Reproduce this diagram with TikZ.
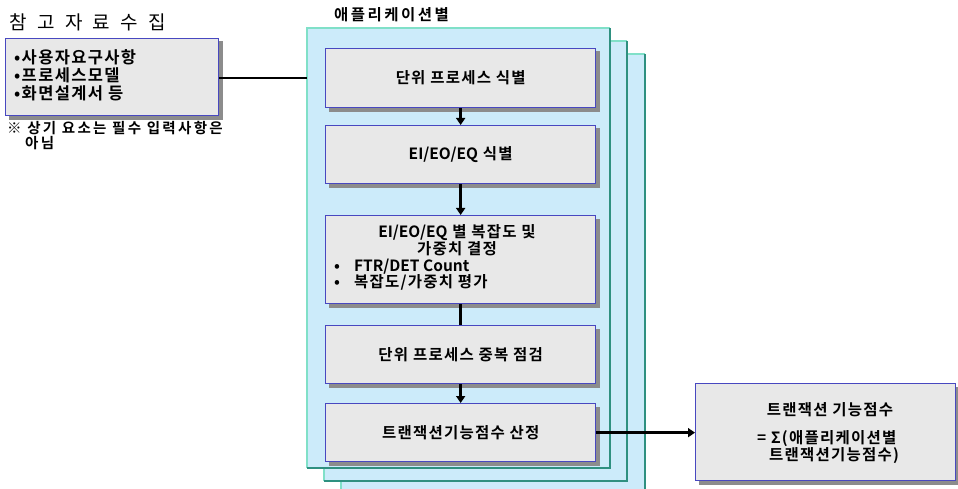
\documentclass[tikz,border=0pt]{standalone}
\usepackage{fontspec}
\setmainfont{Noto Sans CJK KR}
\newfontfamily\kb[LetterSpace=8]{Noto Sans CJK KR Bold}
\newfontfamily\kw[LetterSpace=16]{Noto Sans CJK KR Bold}
\newfontfamily\kl{Noto Sans CJK KR Bold}
\newfontfamily\kt[LetterSpace=55]{Noto Sans CJK KR}
\usetikzlibrary{arrows.meta}
\pgfdeclarelayer{panels}
\pgfdeclarelayer{shadow}
\pgfsetlayers{panels,shadow,main}
\definecolor{panelfill}{HTML}{CCEBFA}
\definecolor{panellight}{HTML}{80E0C8}
\definecolor{paneldark}{HTML}{2E9080}
\definecolor{boxfill}{HTML}{E8E8E8}
\definecolor{boxline}{HTML}{4848C0}
\definecolor{shadowgray}{HTML}{8C8C8C}
\tikzset{
  procbox/.style={draw=boxline, line width=1.3pt, fill=boxfill},
  conn/.style={line width=2.6pt, black},
  arr/.style={conn, -{Triangle[length=7pt,width=9pt]}},
  boxtext/.style={font=\kb\fontsize{15.5}{17}\selectfont, align=center},
}
\newcommand{\panel}[4]{%
  \fill[panelfill] (#1,#2) rectangle (#3,#4);
  \draw[panellight, line width=1.6pt] (#1,#4) -- (#1,#2) -- (#3,#2);
  \draw[paneldark, line width=2pt] (#3,#2) -- (#3,#4) -- (#1,#4);
}
\newcommand{\boxshadow}[1]{%
  \begin{pgfonlayer}{shadow}
  \fill[shadowgray] ([shift={(3.5,3.5)}]#1.north west) rectangle ([shift={(3.5,3.5)}]#1.south east);
  \end{pgfonlayer}}
\begin{document}
\begin{tikzpicture}[x=1pt,y=-1pt]
\useasboundingbox (0,0) rectangle (958,489);
% stacked panels
\begin{pgfonlayer}{panels}
\fill[panelfill] (341,54) rectangle (645,489);
\draw[panellight, line width=1.6pt] (341,489) -- (341,54) -- (645,54);
\draw[paneldark, line width=2pt] (645,54) -- (645,489);
\panel{324}{41}{627}{481}
\panel{307}{28}{610}{468}
\end{pgfonlayer}
% labels
\node[anchor=west, inner sep=0pt, font=\kt\fontsize{19}{20}\selectfont] (title) at (9,22) {참고자료수집};
\node[anchor=west, inner sep=0pt, font=\kw\fontsize{15.5}{16}\selectfont] (applabel) at (334,15) {애플리케이션별};
% left box
\node[procbox, minimum width=213pt, minimum height=77pt, anchor=north west] (src) at (5,38) {};
\boxshadow{src}
\node[anchor=north west, inner sep=0pt, align=left, font=\kb\fontsize{16.5}{18}\selectfont] (srctext) at (14,49)
  {•사용자요구사항\\•프로세스모델\\•화면설계서 등};
\node[anchor=north west, inner sep=0pt, align=left, font=\kw\fontsize{14.5}{15.5}\selectfont] (note) at (7,121)
  {※ 상기 요소는 필수 입력사항은\\\hspace*{18pt}아님};
\coordinate (panelin) at (307,78);
\draw[conn] (src.east |- panelin) -- (panelin);
% process boxes
\node[procbox, boxtext, minimum width=270pt, minimum height=59pt, anchor=north west] (b1) at (325,48) {단위 프로세스 식별};
\node[procbox, boxtext, minimum width=270pt, minimum height=58pt, anchor=north west] (b2) at (325,125) {{\kl EI/EO/EQ} 식별};
\node[procbox, minimum width=270pt, minimum height=88pt, anchor=north west] (b3) at (325,215) {};
\node[boxtext, inner sep=0pt, anchor=north] (b3t) at (457,224) {{\kl EI/EO/EQ} 별 복잡도 및\\가중치 결정};
\node[inner sep=0pt, anchor=north west, align=left, font=\kb\fontsize{15.5}{16}\selectfont] (b3l) at (334,259)
  {•\hspace{14pt}{\kl FTR/DET Count}\\•\hspace{14pt}복잡도/가중치 평가};
\node[procbox, boxtext, minimum width=270pt, minimum height=58pt, anchor=north west] (b4) at (325,325) {단위 프로세스 중복 점검};
\node[procbox, boxtext, minimum width=270pt, minimum height=58pt, anchor=north west] (b5) at (325,403) {트랜잭션기능점수 산정};
\foreach \b in {b1,b2,b3,b4,b5} {\boxshadow{\b}}
\draw[arr] (b1) -- (b2);
\draw[arr] (b2) -- (b3);
\draw[conn] (b3) -- (b4);
\draw[arr] (b4) -- (b5);
% result box
\node[procbox, minimum width=260pt, minimum height=97pt, anchor=north west] (res) at (695,383) {};
\boxshadow{res}
\node[boxtext, inner sep=0pt, anchor=center] (res1) at (830,410) {트랜잭션 기능점수};
\node[inner sep=0pt, anchor=north west, align=left, font=\kb\fontsize{15.5}{17.5}\selectfont] (res2) at (757,430)
  {= Σ(애플리케이션별\\\hspace*{12pt}트랜잭션기능점수)};
\draw[arr] (b5.east) -- (res.west |- b5.east);
\end{tikzpicture}
\end{document}
